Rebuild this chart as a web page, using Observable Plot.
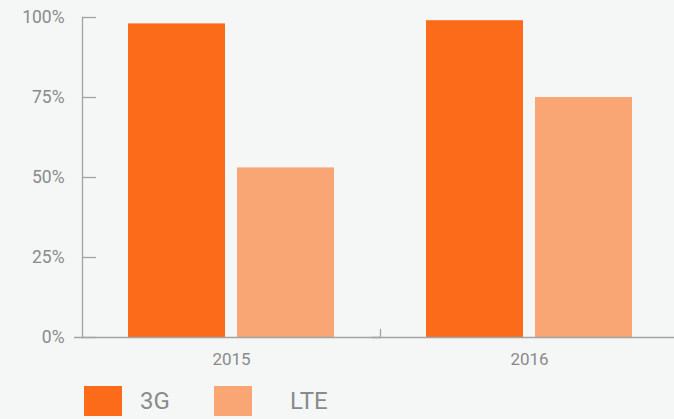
<!DOCTYPE html>
<html><head><meta charset="utf-8">
<script src="https://cdn.jsdelivr.net/npm/d3@7"></script>
<script src="https://cdn.jsdelivr.net/npm/@observablehq/plot@0.6"></script>
<style>
html,body{margin:0;padding:0;background:#f5f7f6;}
body{width:674px;height:419px;overflow:hidden;font-family:Roboto,sans-serif;}
#legend{position:relative;height:31px;margin-top:8px;}
.item{position:absolute;top:0;height:30px;display:flex;align-items:center;}
.item:nth-child(1){left:84px;}
.item:nth-child(2){left:214px;}
.item:nth-child(1) .lb{margin-left:18px;}
.item:nth-child(2) .lb{margin-left:38px;}
.sw{width:38px;height:30px;}
.lb{font-size:24px;color:#8a8a8a;line-height:30px;}
</style></head><body>
<div id="chart"></div>
<div id="legend"></div>
<script>
const years = ["2015", "2016"];
const series = ["3G", "LTE"];
const share3G = [98, 99];
const shareLTE = [53, 75];
const yTicks = [0, 25, 50, 75, 100];
const colors = ["#FC6B1A", "#F9A574"];

const valuesBySeries = {"3G": share3G, "LTE": shareLTE};
const data = years.flatMap((yr, i) => series.map(s => ({year: yr, tech: s, value: valuesBySeries[s][i]})));

const axisGray = "#a3a3a3";
const textGray = "#8a8a8a";

const chart = Plot.plot({
  width: 674, height: 378,
  marginTop: 17, marginBottom: 41, marginLeft: 82, marginRight: -4,
  style: {background: "transparent", fontFamily: "Roboto, sans-serif", overflow: "hidden"},
  fx: {domain: years, padding: 0, label: null},
  x: {domain: series, paddingInner: 0.11, paddingOuter: 0.41, axis: null},
  y: {domain: [0, 100], label: null},
  color: {domain: series, range: colors},
  marks: [
    Plot.barY(data, {fx: "year", x: "tech", y: "value", fill: "tech"}),
    Plot.frame({anchor: "left", facetAnchor: "left", stroke: axisGray, strokeWidth: 1.3}),
    Plot.frame({anchor: "left", facetAnchor: "right", stroke: axisGray, strokeWidth: 1.3, insetTop: 312}),
    Plot.ruleY([0], {stroke: axisGray, strokeWidth: 1.3, insetLeft: -8}),
    Plot.axisY({ticks: yTicks, tickFormat: d => d + "%", tickSize: 14, dx: 14, tickPadding: 18,
      fontSize: 17.5, stroke: axisGray, fill: textGray, strokeWidth: 1.3, label: null}),
    Plot.axisFx({anchor: "bottom", tickSize: 0, tickPadding: 15, fontSize: 17, fill: textGray, label: null})
  ]
});
document.getElementById("chart").appendChild(chart);

const legend = d3.select("#legend");
series.forEach((s, i) => {
  const item = legend.append("div").attr("class", "item");
  item.append("div").attr("class", "sw").style("background", colors[i]);
  item.append("div").attr("class", "lb").text(s);
});
</script>
</body></html>
